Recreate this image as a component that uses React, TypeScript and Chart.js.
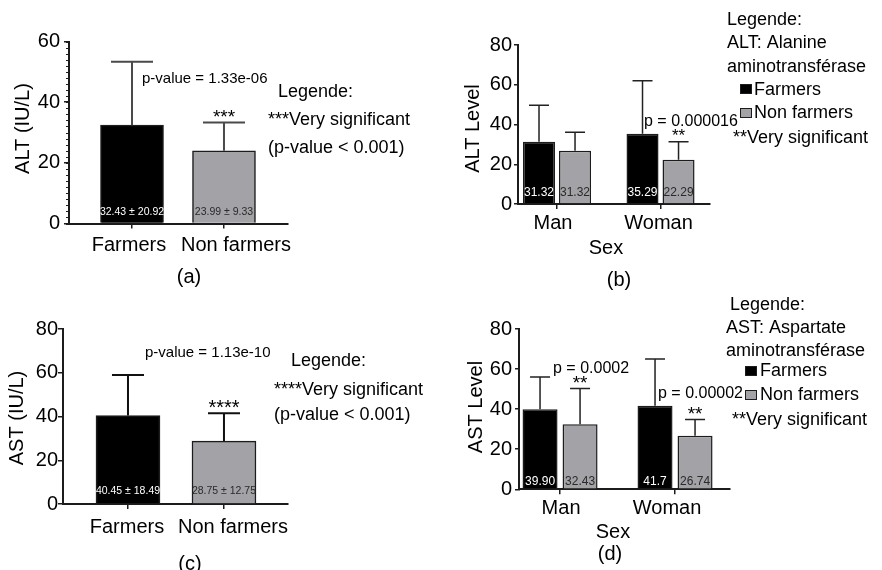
import React, { useEffect, useRef } from 'react';
import { Chart, registerables } from 'chart.js';

Chart.register(...registerables);

// ---------------- data ----------------
const GROUPS = ['Farmers', 'Non farmers'];
const SEXES = ['Man', 'Woman'];

// (a) ALT by group
const ALT_MEANS = [32.43, 23.99];
const ALT_SDS = [20.92, 9.33];
const ALT_VALUE_LABELS = ['32.43 ± 20.92', '23.99 ± 9.33'];
const ALT_STARS = ['', '***'];

// (c) AST by group
const AST_MEANS = [40.45, 28.75];
const AST_SDS = [18.49, 12.75];
const AST_VALUE_LABELS = ['40.45 ± 18.49', '28.75 ± 12.75'];
const AST_STARS = ['', '****'];

// (b) ALT by sex
const ALT_SEX_FARMERS = [31.32, 35.29];
const ALT_SEX_FARMERS_SD = [18.4, 26.7];
const ALT_SEX_FARMERS_LABELS = ['31.32', '35.29'];
const ALT_SEX_NONFARMERS = [26.8, 22.29];
const ALT_SEX_NONFARMERS_SD = [9.3, 9.0];
const ALT_SEX_NONFARMERS_LABELS = ['31.32', '22.29'];
const ALT_SEX_STARS = ['', '**'];

// (d) AST by sex
const AST_SEX_FARMERS = [39.9, 41.7];
const AST_SEX_FARMERS_SD = [16.1, 23.3];
const AST_SEX_FARMERS_LABELS = ['39.90', '41.7'];
const AST_SEX_NONFARMERS = [32.43, 26.74];
const AST_SEX_NONFARMERS_SD = [17.9, 8.1];
const AST_SEX_NONFARMERS_LABELS = ['32.43', '26.74'];
const AST_SEX_STARS = ['**', '**'];

// ---------------- styles ----------------
const FONT = '"Liberation Sans", Arimo, Arial, Helvetica, sans-serif';
const BLACK = '#000000';
const GRAY = '#a3a3a7';
const EDGE = '#1c1c1c';
const WHITE_TXT = '#ffffff';
const DARK_TXT = '#2a2a2a';
const W = 882;
const H = 570;
const Y_W = 60;
const X_H = 40;

type Txt = { t: string; x: number; y: number; s: number; a?: CanvasTextAlign; rot?: boolean };
type Box = { x: number; y: number; w: number; h: number; fill: string };
type Series = { data: number[]; sd: number[]; labels: string[]; stars: string[]; colors: string[]; labelColors: string[] };
type Spec = {
  area: { l: number; r: number; t: number; b: number };
  xRange: [number, number];
  yMax: number;
  categories: string[];
  xLabelShift: number[];
  xLabelY: number;
  series: Series[];
  barThickness?: number;
  catPct?: number;
  barPct?: number;
  capWidth: number;
  errColor: string;
  errWidth: number;
  valueSize: number;
  valueOffset: number;
  starSize: number;
  starLift: number;
  minorStep?: number;
  yTickLen: number;
  yPad: number;
  texts: Txt[];
  boxes: Box[];
};

const SPECS: Spec[] = [
  {
    area: { l: 69, r: 288, t: 41.5, b: 223.5 },
    xRange: [-0.685, 1.696],
    yMax: 60,
    categories: GROUPS,
    xLabelShift: [-3, 12],
    xLabelY: 245,
    series: [
      { data: ALT_MEANS, sd: ALT_SDS, labels: ALT_VALUE_LABELS, stars: ALT_STARS, colors: [BLACK, GRAY], labelColors: [WHITE_TXT, DARK_TXT] },
    ],
    barThickness: 63,
    capWidth: 42,
    errColor: '#4a4a4a',
    errWidth: 2,
    valueSize: 10.5,
    valueOffset: 11,
    starSize: 19,
    starLift: 11,
    minorStep: 2,
    yTickLen: 5,
    yPad: 4,
    texts: [
      { t: 'ALT (IU/L)', x: 23, y: 128.5, s: 20, a: 'center', rot: true },
      { t: 'p-value = 1.33e-06', x: 142, y: 79, s: 15 },
      { t: 'Legende:', x: 278, y: 92, s: 18 },
      { t: '***Very significant', x: 268, y: 120, s: 18 },
      { t: '(p-value < 0.001)', x: 268, y: 148, s: 18 },
      { t: '(a)', x: 189, y: 277, s: 20, a: 'center' },
    ],
    boxes: [],
  },
  {
    area: { l: 518, r: 710, t: 45, b: 204 },
    xRange: [-0.377, 1.478],
    yMax: 80,
    categories: SEXES,
    xLabelShift: [-4, -2],
    xLabelY: 223,
    series: [
      { data: ALT_SEX_FARMERS, sd: ALT_SEX_FARMERS_SD, labels: ALT_SEX_FARMERS_LABELS, stars: ['', ''], colors: [BLACK, BLACK], labelColors: [WHITE_TXT, WHITE_TXT] },
      { data: ALT_SEX_NONFARMERS, sd: ALT_SEX_NONFARMERS_SD, labels: ALT_SEX_NONFARMERS_LABELS, stars: ALT_SEX_STARS, colors: [GRAY, GRAY], labelColors: [DARK_TXT, DARK_TXT] },
    ],
    catPct: 0.696,
    barPct: 0.889,
    capWidth: 20,
    errColor: '#222222',
    errWidth: 1.5,
    valueSize: 12,
    valueOffset: 11,
    starSize: 17,
    starLift: 11,
    yTickLen: 4,
    yPad: 2,
    texts: [
      { t: 'ALT Level', x: 473, y: 128.5, s: 20, a: 'center', rot: true },
      { t: 'Sex', x: 606, y: 248, s: 20, a: 'center' },
      { t: '(b)', x: 619, y: 280, s: 20, a: 'center' },
      { t: 'p = 0.000016', x: 644, y: 122, s: 16 },
      { t: 'Legende:', x: 727, y: 20, s: 18 },
      { t: 'ALT: Alanine', x: 727, y: 43, s: 18 },
      { t: 'aminotransférase', x: 727, y: 67, s: 18 },
      { t: 'Farmers', x: 754, y: 90, s: 18 },
      { t: 'Non farmers', x: 754, y: 113, s: 18 },
      { t: '**Very significant', x: 733, y: 138, s: 18 },
    ],
    boxes: [
      { x: 740, y: 84, w: 12, h: 10, fill: BLACK },
      { x: 740, y: 108, w: 12, h: 10, fill: GRAY },
    ],
  },
  {
    area: { l: 63, r: 288, t: 329, b: 504 },
    xRange: [-0.677, 1.667],
    yMax: 80,
    categories: GROUPS,
    xLabelShift: [-1, 9],
    xLabelY: 527.5,
    series: [
      { data: AST_MEANS, sd: AST_SDS, labels: AST_VALUE_LABELS, stars: AST_STARS, colors: [BLACK, GRAY], labelColors: [WHITE_TXT, DARK_TXT] },
    ],
    barThickness: 64,
    capWidth: 32,
    errColor: '#111111',
    errWidth: 2,
    valueSize: 10.5,
    valueOffset: 13,
    starSize: 20,
    starLift: 11,
    yTickLen: 5,
    yPad: 0,
    texts: [
      { t: 'AST (IU/L)', x: 17, y: 418, s: 20, a: 'center', rot: true },
      { t: 'p-value = 1.13e-10', x: 145, y: 353, s: 15 },
      { t: 'Legende:', x: 291, y: 361, s: 18 },
      { t: '****Very significant', x: 274, y: 390, s: 18 },
      { t: '(p-value < 0.001)', x: 274, y: 415, s: 18 },
      { t: '(c)', x: 190, y: 564, s: 20, a: 'center' },
    ],
    boxes: [],
  },
  {
    area: { l: 519, r: 730, t: 329, b: 489.3 },
    xRange: [-0.357, 1.478],
    yMax: 80,
    categories: SEXES,
    xLabelShift: [1, -8],
    xLabelY: 508,
    series: [
      { data: AST_SEX_FARMERS, sd: AST_SEX_FARMERS_SD, labels: AST_SEX_FARMERS_LABELS, stars: ['', ''], colors: [BLACK, BLACK], labelColors: [WHITE_TXT, WHITE_TXT] },
      { data: AST_SEX_NONFARMERS, sd: AST_SEX_NONFARMERS_SD, labels: AST_SEX_NONFARMERS_LABELS, stars: AST_SEX_STARS, colors: [GRAY, GRAY], labelColors: [DARK_TXT, DARK_TXT] },
    ],
    catPct: 0.696,
    barPct: 0.875,
    capWidth: 20,
    errColor: '#222222',
    errWidth: 1.5,
    valueSize: 12,
    valueOffset: 8,
    starSize: 19,
    starLift: 11,
    yTickLen: 4,
    yPad: 3,
    texts: [
      { t: 'AST Level', x: 476, y: 407, s: 20, a: 'center', rot: true },
      { t: 'Sex', x: 613, y: 532, s: 20, a: 'center' },
      { t: '(d)', x: 610, y: 554, s: 20, a: 'center' },
      { t: 'p = 0.0002', x: 553, y: 369, s: 16 },
      { t: 'p = 0.00002', x: 658, y: 394, s: 16 },
      { t: 'Legende:', x: 730, y: 305, s: 18 },
      { t: 'AST: Aspartate', x: 726, y: 328, s: 18 },
      { t: 'aminotransférase', x: 726, y: 351, s: 18 },
      { t: 'Farmers', x: 760, y: 371, s: 18 },
      { t: 'Non farmers', x: 760, y: 395, s: 18 },
      { t: '**Very significant', x: 732, y: 420, s: 18 },
    ],
    boxes: [
      { x: 745, y: 366, w: 12, h: 10, fill: BLACK },
      { x: 745, y: 390, w: 12, h: 10, fill: GRAY },
    ],
  },
];

const annotPlugin = {
  id: 'annot',
  afterDatasetsDraw(chart: any, _args: any, opts: any) {
    const spec: Spec = opts.spec;
    const ctx: CanvasRenderingContext2D = chart.ctx;
    const ys = chart.scales.y;
    const xs = chart.scales.x;
    const area = chart.chartArea;
    ctx.save();
    if (spec.minorStep) {
      ctx.strokeStyle = EDGE;
      ctx.lineWidth = 1;
      for (let v = 0; v <= spec.yMax; v += spec.minorStep) {
        const py = Math.round(ys.getPixelForValue(v)) + 0.5;
        ctx.beginPath();
        ctx.moveTo(area.left - 3, py);
        ctx.lineTo(area.left, py);
        ctx.stroke();
      }
    }
    // category labels under the x axis
    ctx.fillStyle = '#000';
    ctx.font = `20px ${FONT}`;
    ctx.textAlign = 'center';
    ctx.textBaseline = 'middle';
    spec.categories.forEach((c, i) => {
      ctx.fillText(c, xs.getPixelForValue(i) + spec.xLabelShift[i], spec.xLabelY);
    });
    spec.series.forEach((s, di) => {
      const meta = chart.getDatasetMeta(di);
      meta.data.forEach((el: any, i: number) => {
        const x = el.x;
        const top = ys.getPixelForValue(s.data[i]);
        const cap = ys.getPixelForValue(s.data[i] + s.sd[i]);
        ctx.strokeStyle = spec.errColor;
        ctx.lineWidth = spec.errWidth;
        ctx.beginPath();
        ctx.moveTo(x, top);
        ctx.lineTo(x, cap);
        ctx.moveTo(x - spec.capWidth / 2, cap);
        ctx.lineTo(x + spec.capWidth / 2, cap);
        ctx.stroke();
        if (s.stars[i]) {
          ctx.fillStyle = '#000';
          ctx.font = `${spec.starSize}px ${FONT}`;
          ctx.textAlign = 'center';
          ctx.textBaseline = 'alphabetic';
          ctx.fillText(s.stars[i], x, cap - spec.starLift + spec.starSize * 0.585);
        }
        ctx.fillStyle = s.labelColors[i];
        ctx.font = `${spec.valueSize}px ${FONT}`;
        ctx.textAlign = 'center';
        ctx.textBaseline = 'middle';
        ctx.fillText(s.labels[i], x, area.bottom - spec.valueOffset);
      });
    });
    spec.boxes.forEach((b) => {
      ctx.fillStyle = b.fill;
      ctx.fillRect(b.x, b.y, b.w, b.h);
      ctx.strokeStyle = EDGE;
      ctx.lineWidth = 1;
      ctx.strokeRect(b.x + 0.5, b.y + 0.5, b.w - 1, b.h - 1);
    });
    spec.texts.forEach((t) => {
      ctx.fillStyle = '#000';
      ctx.font = `${t.s}px ${FONT}`;
      ctx.textAlign = t.a || 'left';
      ctx.textBaseline = 'middle';
      if (t.rot) {
        ctx.save();
        ctx.translate(t.x, t.y);
        ctx.rotate(-Math.PI / 2);
        ctx.fillText(t.t, 0, 0);
        ctx.restore();
      } else {
        ctx.fillText(t.t, t.x, t.y);
      }
    });
    ctx.restore();
  },
};

function Panel({ spec }: { spec: Spec }) {
  const ref = useRef<HTMLCanvasElement | null>(null);
  useEffect(() => {
    if (!ref.current) return;
    const a = spec.area;
    const chart = new Chart(ref.current, {
      type: 'bar',
      data: {
        datasets: spec.series.map((s) => ({
          data: s.data.map((v, i) => ({ x: i, y: v })),
          backgroundColor: s.colors,
          borderColor: EDGE,
          borderWidth: 1.5,
          barThickness: spec.barThickness,
          categoryPercentage: spec.catPct ?? 1,
          barPercentage: spec.barPct ?? 1,
        })),
      } as any,
      options: {
        responsive: false,
        animation: false,
        devicePixelRatio: 1,
        events: [],
        layout: {
          padding: { left: a.l - Y_W, right: W - a.r, top: a.t, bottom: H - a.b - X_H },
        },
        plugins: {
          legend: { display: false },
          tooltip: { enabled: false },
          annot: { spec },
        } as any,
        scales: {
          x: {
            type: 'linear',
            min: spec.xRange[0],
            max: spec.xRange[1],
            bounds: 'data',
            offset: false,
            afterBuildTicks: (sc: any) => {
              sc.ticks = spec.categories.map((_, i) => ({ value: i }));
            },
            afterFit: (sc: any) => {
              sc.height = X_H;
            },
            ticks: { display: false },
            grid: { offset: false, drawOnChartArea: false, drawTicks: true, tickLength: 5, color: EDGE, lineWidth: 1.5 },
            border: { color: EDGE, width: 2 },
          },
          y: {
            min: 0,
            max: spec.yMax,
            afterFit: (sc: any) => {
              sc.width = Y_W;
            },
            ticks: {
              stepSize: 20,
              font: { family: FONT, size: 20 },
              color: '#000',
              padding: spec.yPad,
            },
            grid: { drawOnChartArea: false, drawTicks: true, tickLength: spec.yTickLen, color: EDGE, lineWidth: 1.5 },
            border: { color: EDGE, width: 2 },
          },
        } as any,
      },
      plugins: [annotPlugin as any],
    });
    return () => chart.destroy();
  }, [spec]);
  return (
    <canvas
      ref={ref}
      width={W}
      height={H}
      style={{ position: 'absolute', left: 0, top: 0, width: W, height: H }}
    />
  );
}

export default function App() {
  return (
    <div style={{ position: 'absolute', left: 0, top: 0, width: W, height: H, background: '#ffffff', overflow: 'hidden' }}>
      {SPECS.map((s, i) => (
        <Panel key={i} spec={s} />
      ))}
    </div>
  );
}
